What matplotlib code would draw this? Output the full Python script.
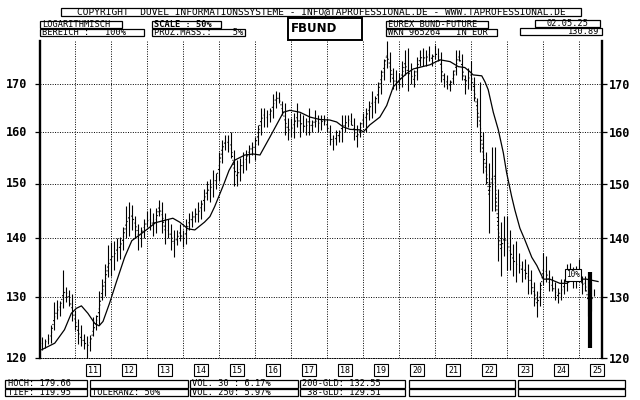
import matplotlib
matplotlib.use("Agg")
import matplotlib.pyplot as plt
from matplotlib.patches import Rectangle
from matplotlib.ticker import NullLocator
from matplotlib.transforms import blended_transform_factory

# FBUND monthly bars (high / low) and 38-GLD (dotted), Jan 2010 .. May 2025
years = list(range(2010, 2026))

high = {
    2010: [123.6, 123.3, 124.2, 125.6, 129.2, 129.6, 129.4, 134.5, 131.7, 131.2, 130.5, 128.0],
    2011: [126.5, 125.5, 124.2, 123.8, 124.0, 126.8, 127.2, 131.0, 133.0, 135.5, 138.8, 139.3],
    2012: [139.5, 140.0, 140.2, 142.0, 145.8, 146.5, 146.0, 144.0, 142.5, 142.0, 143.5, 145.0],
    2013: [145.5, 144.5, 145.5, 147.0, 146.5, 144.5, 143.5, 142.5, 141.5, 141.5, 142.5, 141.5],
    2014: [143.5, 144.5, 145.0, 145.5, 146.5, 147.0, 149.0, 150.5, 150.8, 152.5, 152.0, 156.0],
    2015: [158.5, 159.5, 159.5, 160.0, 156.5, 154.5, 155.0, 156.0, 156.5, 157.5, 158.0, 159.0],
    2016: [161.5, 165.0, 165.0, 164.5, 165.0, 168.0, 168.5, 168.3, 166.5, 166.0, 163.0, 163.0],
    2017: [164.0, 166.0, 164.0, 163.5, 163.0, 165.0, 162.5, 164.5, 163.5, 163.5, 163.5, 163.0],
    2018: [161.5, 159.5, 160.5, 160.5, 163.5, 163.5, 163.5, 164.0, 163.0, 161.5, 162.0, 164.0],
    2019: [165.0, 166.5, 168.5, 167.5, 170.5, 173.0, 175.5, 179.6, 177.0, 173.5, 173.0, 172.5],
    2020: [175.0, 177.5, 178.0, 174.5, 173.0, 176.0, 177.5, 178.0, 177.5, 178.3, 176.5, 178.5],
    2021: [178.0, 177.0, 172.5, 172.0, 171.0, 173.0, 177.5, 177.5, 176.5, 172.0, 173.5, 175.0],
    2022: [171.5, 167.0, 170.5, 160.0, 156.0, 154.0, 157.0, 157.0, 149.0, 143.0, 144.0, 144.0],
    2023: [141.5, 139.0, 139.5, 137.5, 136.0, 136.5, 135.5, 134.5, 132.5, 131.0, 132.5, 137.5],
    2024: [137.0, 134.5, 133.5, 132.5, 131.5, 133.0, 133.0, 135.5, 135.8, 135.0, 135.3, 136.5],
    2025: [133.5, 133.5, 133.0, 132.5, 131.3],
}
low = {
    2010: [121.6, 122.0, 122.5, 122.8, 124.8, 126.5, 127.0, 128.3, 129.2, 128.5, 126.2, 124.8],
    2011: [122.5, 122.3, 121.8, 120.5, 121.5, 123.8, 124.8, 125.5, 129.5, 130.2, 133.3, 133.5],
    2012: [134.5, 136.0, 136.5, 138.0, 140.0, 140.5, 141.5, 140.0, 138.0, 138.5, 140.0, 142.0],
    2013: [141.5, 140.5, 141.0, 144.0, 141.0, 139.0, 140.0, 138.0, 136.8, 138.8, 139.5, 138.5],
    2014: [139.0, 141.5, 142.0, 143.0, 143.0, 143.5, 145.0, 147.0, 146.5, 147.5, 149.0, 150.5],
    2015: [154.0, 156.5, 156.0, 155.0, 149.5, 149.5, 150.5, 152.0, 152.5, 154.0, 155.5, 154.5],
    2016: [157.5, 159.5, 161.0, 161.0, 162.0, 163.0, 165.0, 166.0, 163.5, 159.5, 158.5, 159.0],
    2017: [158.8, 161.0, 159.0, 160.0, 159.5, 159.5, 160.0, 161.0, 160.0, 160.5, 161.5, 160.0],
    2018: [157.5, 156.5, 157.5, 158.0, 158.0, 160.0, 161.0, 161.5, 158.5, 157.0, 159.0, 161.0],
    2019: [160.0, 162.5, 163.0, 164.0, 166.0, 168.0, 171.0, 173.5, 170.5, 169.0, 168.8, 169.0],
    2020: [169.5, 172.0, 168.5, 170.0, 169.5, 171.0, 174.0, 174.0, 174.0, 175.0, 174.0, 175.5],
    2021: [175.0, 170.5, 169.5, 169.0, 168.5, 170.0, 172.0, 175.0, 171.0, 168.0, 169.0, 168.8],
    2022: [166.5, 161.0, 156.0, 152.0, 150.0, 141.0, 145.0, 145.0, 136.0, 133.5, 137.0, 134.5],
    2023: [134.5, 133.5, 132.5, 134.0, 132.5, 133.0, 130.5, 130.5, 128.5, 126.8, 128.5, 132.0],
    2024: [132.5, 131.0, 131.0, 129.5, 129.0, 129.5, 130.5, 131.0, 133.0, 131.5, 131.5, 132.5],
    2025: [130.5, 131.0, 127.0, 127.8, 130.2],
}
gld38 = {
    2010: [122.6, 122.8, 123.2, 123.8, 126.5, 127.8, 128.2, 130.5, 131.0, 129.8, 128.3, 126.5],
    2011: [124.5, 123.5, 123.0, 122.3, 122.5, 124.5, 125.8, 127.8, 130.8, 132.5, 135.2, 136.5],
    2012: [137.0, 138.0, 138.5, 139.8, 142.5, 143.8, 144.0, 142.8, 140.8, 140.5, 141.8, 143.0],
    2013: [143.5, 142.5, 143.0, 145.5, 144.5, 141.5, 141.5, 140.5, 139.0, 140.0, 141.0, 140.0],
    2014: [141.0, 142.8, 143.5, 144.0, 144.5, 145.5, 147.0, 148.5, 149.0, 149.8, 150.8, 153.0],
    2015: [156.5, 158.0, 158.0, 157.5, 153.0, 151.5, 152.5, 154.0, 154.5, 156.0, 157.0, 157.0],
    2016: [159.5, 162.5, 163.5, 163.0, 163.5, 165.5, 167.0, 167.0, 165.0, 162.5, 160.5, 160.5],
    2017: [161.5, 163.0, 162.0, 161.5, 161.0, 162.5, 161.0, 162.5, 161.8, 162.0, 162.5, 161.5],
    2018: [159.5, 158.0, 158.8, 159.5, 161.0, 161.5, 162.5, 162.5, 160.5, 159.0, 160.5, 162.5],
    2019: [163.0, 164.5, 166.0, 166.0, 168.0, 171.0, 173.5, 176.5, 174.0, 171.0, 170.5, 170.5],
    2020: [172.0, 174.5, 172.5, 172.0, 171.0, 173.5, 175.5, 176.0, 175.5, 176.5, 175.5, 176.5],
    2021: [176.5, 174.0, 171.0, 170.5, 169.8, 171.0, 174.0, 176.0, 174.0, 170.5, 171.0, 172.0],
    2022: [169.0, 165.0, 162.0, 156.0, 153.0, 148.0, 151.0, 151.5, 142.0, 138.0, 140.0, 139.5],
    2023: [138.0, 136.5, 135.5, 135.5, 134.5, 134.5, 133.5, 132.5, 131.0, 129.0, 130.0, 134.5],
    2024: [134.5, 132.5, 132.0, 131.0, 130.2, 131.0, 131.8, 133.5, 134.3, 133.2, 133.5, 134.5],
    2025: [132.0, 132.5, 129.5, 130.0, 129.5],
}

# 200-GLD (solid line)
gld200_t = [2010.08, 2010.44, 2010.71, 2010.90, 2011.04, 2011.18, 2011.36, 2011.55, 2011.67,
            2011.78, 2011.96, 2012.15, 2012.38, 2012.58, 2012.94, 2013.24, 2013.54, 2013.72,
            2013.91, 2014.14, 2014.33, 2014.60, 2014.75, 2014.88, 2015.13, 2015.28, 2015.44,
            2015.72, 2015.95, 2016.14, 2016.42, 2016.79, 2016.97, 2017.25, 2017.53, 2017.81,
            2018.08, 2018.27, 2018.45, 2018.64, 2018.92, 2019.01, 2019.19, 2019.47, 2019.66,
            2019.84, 2020.03, 2020.21, 2020.40, 2020.86, 2021.14, 2021.42, 2021.65, 2021.83,
            2021.97, 2022.06, 2022.30, 2022.39, 2022.48, 2022.62, 2022.76, 2022.90, 2022.99,
            2023.13, 2023.22, 2023.36, 2023.50, 2023.69, 2023.83, 2024.01, 2024.19, 2024.47,
            2024.66, 2024.84, 2025.21, 2025.53]
gld200_v = [121.7, 122.7, 124.8, 127.4, 128.2, 128.6, 127.4, 125.8, 125.4,
            126.1, 129.0, 132.5, 136.7, 139.6, 141.3, 142.8, 143.3, 143.6,
            142.9, 141.7, 141.5, 142.9, 143.9, 145.7, 149.8, 152.5, 154.5,
            155.5, 155.7, 155.5, 159.1, 164.1, 164.5, 164.1, 163.1, 162.6,
            162.5, 162.1, 161.1, 160.6, 160.5, 160.1, 161.5, 163.1, 165.5,
            169.4, 171.0, 172.3, 173.3, 174.2, 175.3, 174.9, 173.8, 173.6,
            172.7, 172.0, 171.8, 170.5, 168.8, 164.1, 160.5, 155.9, 152.1,
            147.6, 145.1, 141.8, 139.7, 136.7, 135.3, 133.0, 133.0, 132.3,
            132.3, 133.0, 133.0, 132.6]

# current bar marker and tolerance label
mark_t = 2025.31
mark_lo, mark_hi = 121.9, 134.2

year_labels = ["11", "12", "13", "14", "15", "16", "17", "18", "19", "20", "21", "22", "23", "24", "25"]
price_ticks = [130, 140, 150, 160, 170]

t, hi, lo, dots = [], [], [], []
for y in years:
    for m in range(len(high[y])):
        t.append(y + (m + 1) / 12)
        hi.append(high[y][m])
        lo.append(low[y][m])
        dots.append(gld38[y][m])

W, H = 640, 400
fig = plt.figure(figsize=(6.4, 4.0), dpi=100)
fig.patch.set_facecolor("white")
ax = fig.add_axes([40 / W, 1 - 358 / H, 562 / W, 317 / H])

ax.set_yscale("log")
ybot = 120.43
ax.set_ylim(ybot, 179.5)
ax.set_xlim(2010.03, 2025.64)

ax.vlines(t, lo, hi, color="black", lw=0.8)
ax.plot(t, dots, color="black", lw=0.8, linestyle=(0, (1, 2.5)))
ax.plot(gld200_t, gld200_v, color="black", lw=0.9)
ax.vlines(mark_t, mark_lo, mark_hi, color="black", lw=3)
ax.text(2024.83, 133.7, "10%", family="DejaVu Sans Mono", fontsize=5.5, ha="center", va="center",
        bbox=dict(boxstyle="square,pad=0.15", fc="white", ec="black", lw=0.8))

# grid and price ticks
ax.yaxis.set_minor_locator(NullLocator())
ytick_vals = [ybot] + price_ticks
ytick_labs = ["120"] + [str(p) for p in price_ticks]
ax.set_yticks(ytick_vals)
ax.set_yticklabels(ytick_labs)
ax.set_xticks([int(s) + 2000 for s in year_labels])
ax.set_xticklabels([])
ax.grid(True, color="black", lw=0.7, linestyle=(0, (1, 1.5)))
ax.tick_params(axis="x", length=0)
ax.tick_params(axis="y", direction="out", length=3.6, width=0.9, left=True, right=True,
               labelleft=False, labelright=True, pad=1.5)
for lab in ax.get_yticklabels():
    lab.set_family("DejaVu Sans Mono")
    lab.set_fontweight("bold")
    lab.set_fontsize(8.5)
ytr = blended_transform_factory(ax.transAxes, ax.transData)
for v, s in zip(ytick_vals, ytick_labs):
    ax.text(-13 / 562, v, s, transform=ytr, ha="right", va="center", family="DejaVu Sans Mono",
            fontweight="bold", fontsize=8.5)

ax.spines["top"].set_visible(False)
ax.spines["bottom"].set_linestyle((0, (1, 1.5)))
ax.spines["bottom"].set_linewidth(0.7)
ax.spines["left"].set_linewidth(1.7)
ax.spines["right"].set_linewidth(1.7)

# year boxes under the axis
tr = ax.get_xaxis_transform()
for s in year_labels:
    ax.text(int(s) + 2000.5, -0.038, s, transform=tr, family="DejaVu Sans Mono", fontsize=6,
            ha="center", va="center",
            bbox=dict(boxstyle="square,pad=0.2", fc="white", ec="black", lw=0.8))


def box(x0, y0, x1, y1, text="", ha="left", size=6.2, weight="normal", lw=0.9, family="DejaVu Sans Mono"):
    fig.add_artist(Rectangle((x0 / W, 1 - y1 / H), (x1 - x0) / W, (y1 - y0) / H,
                             transform=fig.transFigure, fill=False, ec="black", lw=lw))
    if text:
        if ha == "left":
            tx = x0 + 2.5
        elif ha == "right":
            tx = x1 - 2.5
        else:
            tx = (x0 + x1) / 2
        fig.text(tx / W, 1 - (y0 + y1) / 2 / H, text, ha=ha, va="center", fontsize=size,
                 fontweight=weight, family=family)


# header
box(61, 8, 581, 16, "COPYRIGHT  DUVEL INFORMATIONSSYSTEME - INFO@TAPROFESSIONAL.DE - WWW.TAPROFESSIONAL.DE",
    ha="center", size=6.8)
box(40, 21, 122, 28, "LOGARITHMISCH")
box(40, 29, 144, 36, "BEREICH :   100%")
box(152, 21, 221, 28, "SCALE : 50%", weight="bold")
box(152, 29, 245, 36, "PROZ.MASS.:    5%")
box(288, 18, 362, 40, "FBUND", size=8.5, weight="bold", lw=1.4, family="DejaVu Sans")
box(386, 21, 488, 28, "EUREX BUND-FUTURE")
box(386, 29, 497, 36, "WKN 965264   IN EUR")
box(535, 20, 600, 27, "02.05.25", ha="center")
box(520, 28, 602, 35, "130.89", ha="right")

# footer
box(5, 380, 87, 387.5, "HOCH: 179.66")
box(5, 388.5, 87, 396, "TIEF: 119.95")
box(90, 380, 188, 387.5)
box(90, 388.5, 188, 396, "TOLERANZ: 50%")
box(190, 380, 298, 387.5, "VOL. 30 : 6.17%")
box(190, 388.5, 298, 396, "VOL. 250: 5.97%")
box(300, 380, 405, 387.5, "200-GLD: 132.55")
box(300, 388.5, 405, 396, " 38-GLD: 129.51")
box(409, 380, 515, 387.5)
box(409, 388.5, 515, 396)
box(518, 380, 625, 387.5)
box(518, 388.5, 625, 396)

fig.savefig("out.png", dpi=100)
plt.close(fig)
